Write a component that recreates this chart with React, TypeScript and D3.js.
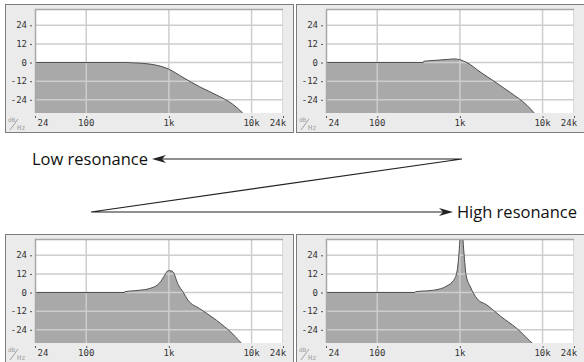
import React, { useEffect, useRef } from 'react';
import * as d3 from 'd3';

// axis ticks
const freqTicks = [24, 100, 1000, 10000, 24000];
const freqLabels = ['24', '100', '1k', '10k', '24k'];
const dbTicks = [24, 12, 0, -12, -24];
const dbLabels = ['24', '12', '0', '-12', '-24'];

// filter responses: [Hz, dB]
const resNone: [number, number][] = [
  [24, 0], [300, 0], [370, -0.2], [590, -1], [800, -2.4], [1000, -4.3], [1480, -9.6],
  [2370, -15.7], [3800, -21], [5900, -26.8], [7840, -32.6], [9000, -36],
];
const resLow: [number, number][] = [
  [24, 0], [360, 0], [365, 0.8], [527, 1.5], [700, 2.0], [845, 2.3], [994, 1.9],
  [1100, 1.0], [1215, 0], [1750, -6], [2580, -12], [4070, -19.3], [6460, -27.5],
  [7950, -32.6], [9000, -36],
];
const resMid: [number, number][] = [
  [24, 0], [290, 0], [293, 0.5], [442, 1.5], [585, 2.6], [773, 6.2], [889, 11.1],
  [974, 14], [1070, 14], [1120, 13.3], [1300, 5], [1480, 0.4], [1700, -4.9],
  [2350, -10.3], [3750, -17.8], [5950, -26.8], [7800, -33.4], [9000, -36],
];
const resHigh: [number, number][] = [
  [24, 0], [285, 0], [290, 0.5], [480, 1.5], [697, 4.3], [840, 7.9], [920, 13.3],
  [967, 23], [1000, 34], [1029, 45], [1060, 45], [1090, 34], [1130, 23], [1190, 11.1],
  [1340, 3.6], [1610, -3.9], [2130, -8.1], [3090, -15.2], [4880, -23.1], [7800, -33.4],
  [9000, -36],
];

const panels = [
  { x: 5, y: 4, data: resNone },
  { x: 296, y: 4, data: resLow },
  { x: 5, y: 234, data: resMid },
  { x: 296, y: 234, data: resHigh },
];

const App: React.FC = () => {
  const svgRef = useRef<SVGSVGElement | null>(null);

  useEffect(() => {
    if (!svgRef.current) return;
    const svg = d3.select(svgRef.current);
    svg.selectAll('*').remove();

    const W = 584;
    const H = 362;
    svg.attr('width', W).attr('height', H);

    // panel geometry
    const pw = 288;
    const ph = 128;
    const plot = { left: 30, top: 5, width: 248, height: 104 };

    const x = d3.scaleLog().domain([24, 24000]).range([0, plot.width]);
    const y = d3.scaleLinear().domain([-32.5, 34.5]).range([plot.height, 0]);

    const tickFont = '"DejaVu Sans Mono", monospace';
    const defs = svg.append('defs');

    panels.forEach((p, i) => {
      const g = svg.append('g').attr('transform', `translate(${p.x},${p.y})`);

      g.append('rect')
        .attr('x', 0.5)
        .attr('y', 0.5)
        .attr('width', pw)
        .attr('height', ph)
        .attr('fill', '#ebebeb')
        .attr('stroke', '#7c7c7c');

      const pg = g.append('g').attr('transform', `translate(${plot.left},${plot.top})`);

      defs
        .append('clipPath')
        .attr('id', `clip-${i}`)
        .append('rect')
        .attr('width', plot.width)
        .attr('height', plot.height);

      pg.append('rect')
        .attr('width', plot.width)
        .attr('height', plot.height)
        .attr('fill', '#fff');

      const area = d3
        .area<[number, number]>()
        .x(d => x(d[0]))
        .y0(plot.height)
        .y1(d => y(d[1]))
        .curve(d3.curveMonotoneX);
      const line = d3
        .line<[number, number]>()
        .x(d => x(d[0]))
        .y(d => y(d[1]))
        .curve(d3.curveMonotoneX);

      const cg = pg.append('g').attr('clip-path', `url(#clip-${i})`);
      cg.append('path').attr('d', area(p.data)!).attr('fill', '#a9a9a9');

      // grid over the fill
      freqTicks.slice(1).forEach(f => {
        cg.append('line')
          .attr('x1', x(f))
          .attr('x2', x(f))
          .attr('y1', 0)
          .attr('y2', plot.height)
          .attr('stroke', '#cdcdcd')
          .attr('stroke-width', 1.5);
      });
      dbTicks.forEach(d => {
        cg.append('line')
          .attr('x1', 0)
          .attr('x2', plot.width)
          .attr('y1', y(d))
          .attr('y2', y(d))
          .attr('stroke', '#cdcdcd')
          .attr('stroke-width', 1.5);
      });

      cg.append('path')
        .attr('d', line(p.data)!)
        .attr('fill', 'none')
        .attr('stroke', '#4c4c4c')
        .attr('stroke-width', 1);

      // plot frame (top / left)
      pg.append('path')
        .attr('d', `M0.5,${plot.height}V0.5H${plot.width}`)
        .attr('fill', 'none')
        .attr('stroke', '#a8a8a8')
        .attr('stroke-width', 1.5);

      // y axis labels
      dbTicks.forEach((d, k) => {
        pg.append('text')
          .attr('x', -8)
          .attr('y', y(d))
          .attr('dy', '0.35em')
          .attr('text-anchor', 'end')
          .attr('font-family', tickFont)
          .attr('font-size', 9)
          .attr('fill', '#333')
          .text(dbLabels[k]);
        pg.append('line')
          .attr('x1', -5)
          .attr('x2', -3)
          .attr('y1', y(d) + 0.5)
          .attr('y2', y(d) + 0.5)
          .attr('stroke', '#555');
      });

      // x axis ticks and labels
      freqTicks.forEach((f, k) => {
        const fx = x(f);
        pg.append('line')
          .attr('x1', fx + 0.5)
          .attr('x2', fx + 0.5)
          .attr('y1', plot.height + 3)
          .attr('y2', plot.height + 5)
          .attr('stroke', '#555');
        const shift = k === 0 ? 8 : k === freqTicks.length - 1 ? -5 : 0;
        pg.append('text')
          .attr('x', fx + shift)
          .attr('y', plot.height + 13)
          .attr('text-anchor', 'middle')
          .attr('font-family', tickFont)
          .attr('font-size', 9)
          .attr('fill', '#333')
          .text(freqLabels[k]);
      });

      // dB/Hz unit mark
      const u = g.append('g').attr('fill', '#a0a0a0').attr('font-family', tickFont);
      u.append('text').attr('x', 3).attr('y', 118).attr('font-size', 6).text('dB');
      u.append('line')
        .attr('x1', 5)
        .attr('y1', 126)
        .attr('x2', 13)
        .attr('y2', 115)
        .attr('stroke', '#a0a0a0');
      u.append('text').attr('x', 12).attr('y', 126).attr('font-size', 7).text('Hz');
    });

    // arrows between the rows
    const arrowHead = (tx: number, ty: number, dir: number) => {
      const len = 14;
      const half = 4;
      const notch = 10;
      return `M${tx},${ty}L${tx - dir * len},${ty - half}L${tx - dir * notch},${ty}L${tx - dir * len},${ty + half}Z`;
    };

    const ag = svg.append('g');
    const upY = 159;
    const loY = 212;
    const rightX = 462;
    const leftX = 91;
    const lowTip = 152;
    const highTip = 453;

    ag.append('path')
      .attr('d', `M${rightX},${upY}H${lowTip + 8}M${rightX},${upY}L${leftX},${loY}H${highTip - 8}`)
      .attr('fill', 'none')
      .attr('stroke', '#222')
      .attr('stroke-width', 1.2);
    ag.append('path').attr('d', arrowHead(lowTip, upY, -1)).attr('fill', '#222');
    ag.append('path').attr('d', arrowHead(highTip, loY, 1)).attr('fill', '#222');

    const labelFont = '"Open Sans", "Noto Sans", sans-serif';
    ag.append('text')
      .attr('x', 32)
      .attr('y', upY)
      .attr('dy', '0.35em')
      .attr('font-family', labelFont)
      .attr('font-size', 16.5)
      .attr('fill', '#111')
      .text('Low resonance');
    ag.append('text')
      .attr('x', 577)
      .attr('y', loY)
      .attr('dy', '0.35em')
      .attr('text-anchor', 'end')
      .attr('font-family', labelFont)
      .attr('font-size', 16.5)
      .attr('fill', '#111')
      .text('High resonance');
  }, []);

  return <svg ref={svgRef} style={{ position: 'absolute', left: 0, top: 0, display: 'block' }} />;
};

export default App;
